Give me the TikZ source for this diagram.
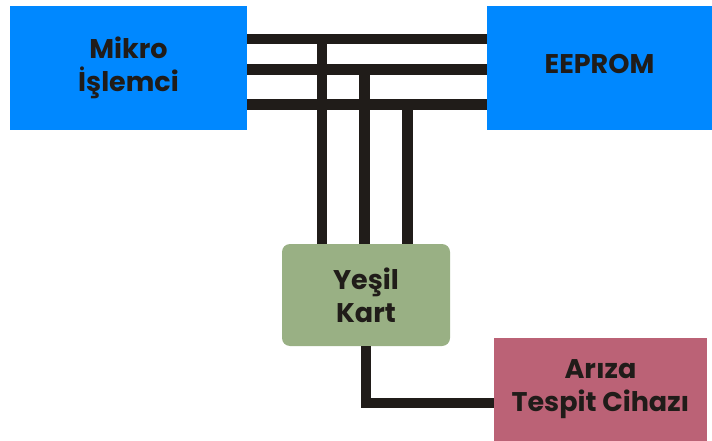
\documentclass[tikz,border=0pt]{standalone}
\usepackage{fontspec}
\setmainfont{Poppins}
\definecolor{mblue}{HTML}{0088FF}
\definecolor{cgreen}{HTML}{99B084}
\definecolor{cpink}{HTML}{BB6276}
\definecolor{wire}{HTML}{201C19}
\begin{document}
\begin{tikzpicture}[x=1pt,y=-1pt,
		box/.style={inner sep=0pt, align=center, text=wire,
			font=\fontsize{27}{33}\selectfont\bfseries},
		bus/.style={line width=10.5pt, draw=wire, line join=miter}]
		\useasboundingbox (0,0) rectangle (712,441);

		\node[box, fill=mblue, minimum width=237pt, minimum height=124pt] (mikro) at (128.5,68) {Mikro\\İşlemci};
		\node[box, fill=mblue, minimum width=225pt, minimum height=124pt, text depth=8pt] (eeprom) at (599.5,68) {EEPROM};
		\node[box, fill=cgreen, rounded corners=8pt, minimum width=168pt, minimum height=102pt] (yesil) at (366,295) {Yeşil\\Kart};
		\node[box, fill=cpink, minimum width=213pt, minimum height=103pt] (ariza) at (600.5,389.5) {Arıza\\Tespit Cihazı};

		% hatlar
		\coordinate (b1) at (322,39);
		\coordinate (b2) at (364.5,69.5);
		\coordinate (b3) at (407.5,104.5);
		\coordinate (k) at (0,403);

		\draw[bus] (mikro.east |- b1) -- (eeprom.west |- b1);
		\draw[bus] (mikro.east |- b2) -- (eeprom.west |- b2);
		\draw[bus] (mikro.east |- b3) -- (eeprom.west |- b3);

		\draw[bus] (b1) -- (b1 |- yesil.north);
		\draw[bus] (b2) -- (b2 |- yesil.north);
		\draw[bus] (b3) -- (b3 |- yesil.north);

		\draw[bus] (yesil.south) |- (ariza.west |- k);
	\end{tikzpicture}
\end{document}
